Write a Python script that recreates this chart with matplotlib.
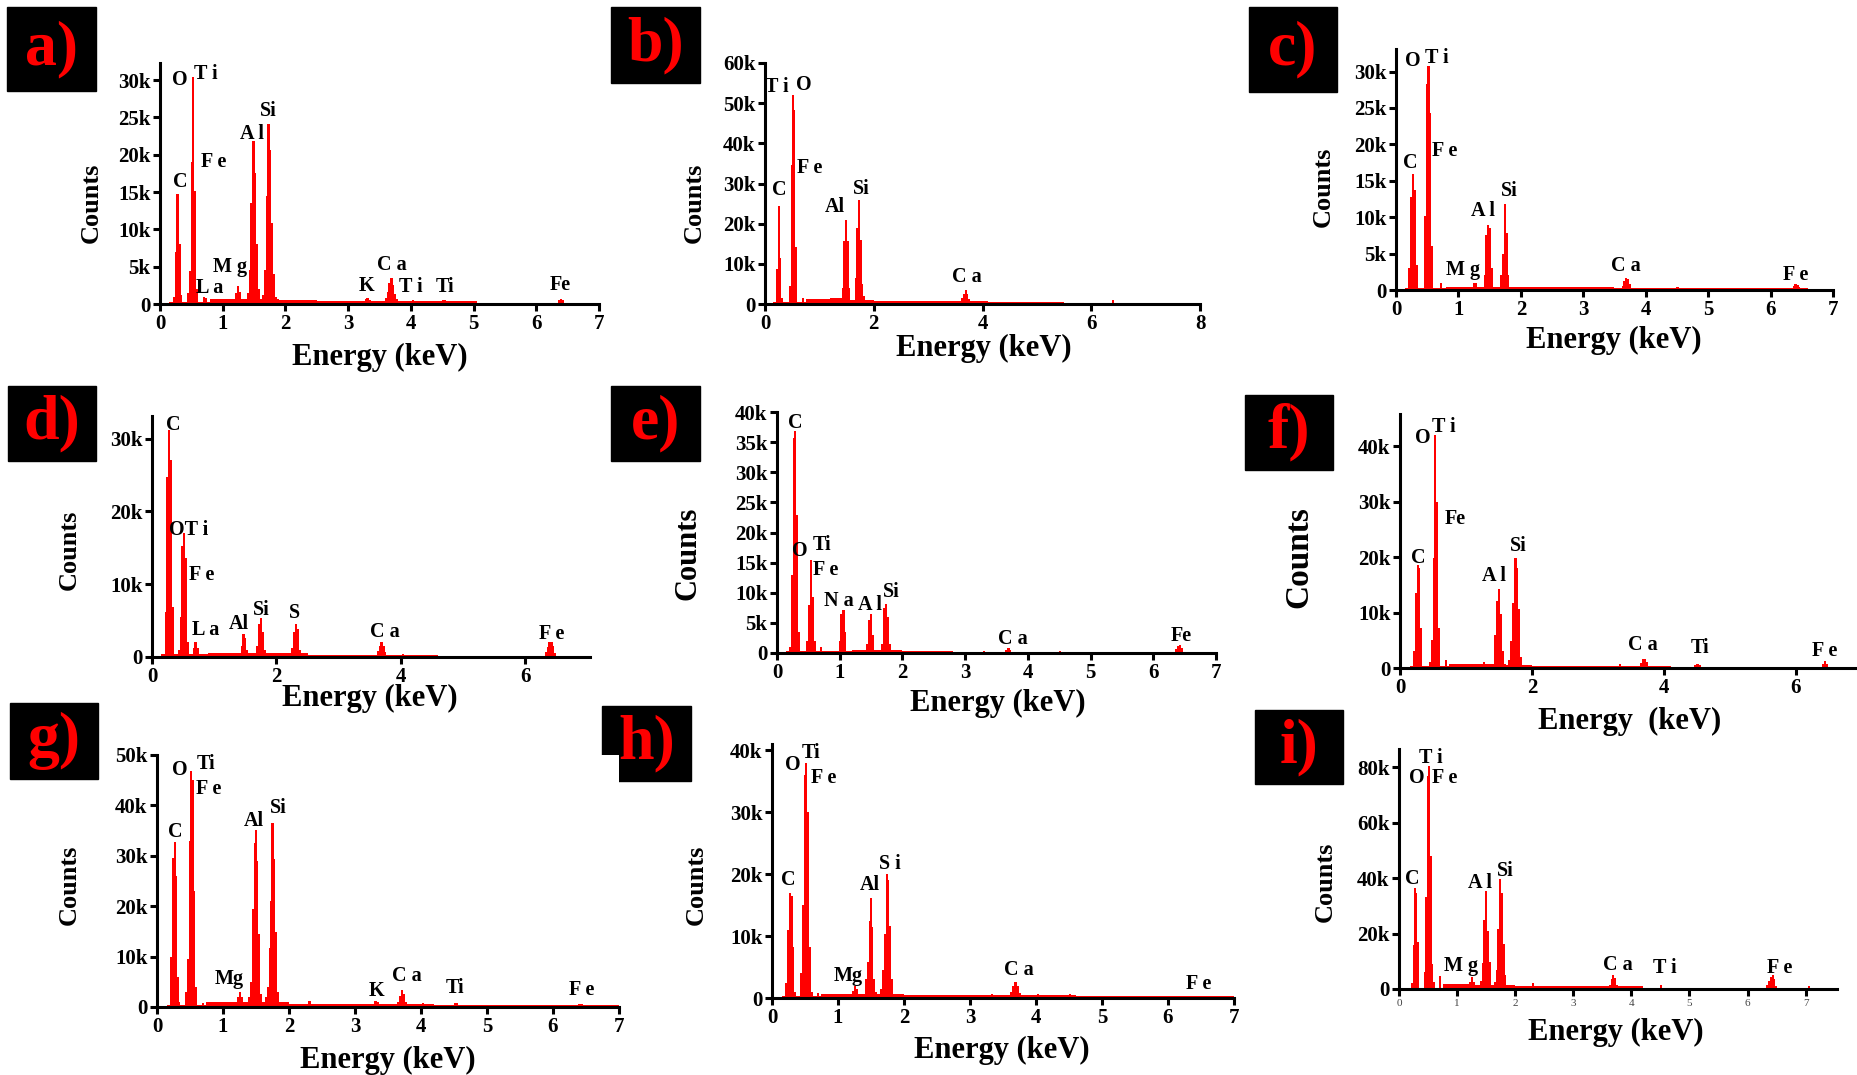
import numpy as np
import matplotlib.pyplot as plt
from matplotlib.patches import Rectangle
from matplotlib.ticker import FuncFormatter

plt.rcParams['font.family'] = ['Liberation Serif', 'DejaVu Serif']
plt.rcParams['font.weight'] = 'bold'

W, H = 1858, 1075
RED = '#ff0000'

# ---- spectra: channel energy (keV) and counts (thousands) ----
a_e = [0.22, 0.25, 0.28, 0.31, 0.34, 0.45, 0.48, 0.51, 0.53, 0.56, 0.59, 0.70, 0.73, 1.22, 1.25, 1.28,
       1.40, 1.43, 1.46, 1.49, 1.52, 1.55, 1.58, 1.64, 1.67, 1.70, 1.73, 1.76, 1.79, 1.82, 1.85,
       3.28, 3.31, 3.34, 3.60, 3.63, 3.66, 3.69, 3.72, 3.75, 3.78, 4.03, 4.51, 4.54, 6.37, 6.40, 6.43]
a_c = [1.0, 7.0, 14.7, 8.0, 1.2, 1.5, 4.4, 19.0, 30.4, 15.1, 2.0, 1.0, 0.8, 1.5, 2.4, 1.6,
       1.5, 4.5, 13.5, 21.8, 17.5, 8.0, 2.0, 1.2, 4.5, 14.5, 24.1, 20.7, 10.9, 4.0, 1.0,
       0.7, 0.8, 0.6, 0.8, 1.6, 2.8, 3.5, 2.5, 1.4, 0.7, 0.5, 0.6, 0.5, 0.5, 0.7, 0.5]
a_base_edges = [0.15, 0.8, 1.9, 2.5, 5.05, 7.0]
a_base_level = [0.3, 0.7, 0.5, 0.35, 0.13]
a_lab = ['O', 'T i', 'F e', 'C', 'Si', 'A l', 'M g', 'L a', 'K', 'C a', 'T i', 'Ti', 'Fe']
a_lx = [0.32, 0.73, 0.86, 0.32, 1.72, 1.47, 1.12, 0.80, 3.30, 3.70, 4.00, 4.55, 6.38]
a_ly = [30.0, 30.8, 19.0, 16.4, 25.8, 22.8, 5.0, 2.1, 2.4, 5.2, 2.3, 2.3, 2.5]

b_e = [0.22, 0.25, 0.28, 0.31, 0.46, 0.49, 0.52, 0.54, 0.57, 0.70, 1.43, 1.46, 1.49, 1.52, 1.55,
       1.67, 1.70, 1.73, 1.76, 1.79, 1.82, 3.63, 3.66, 3.69, 3.72, 3.75, 6.40]
b_c = [8.7, 24.5, 11.5, 1.5, 4.5, 34.7, 52.0, 48.4, 14.2, 1.5, 4.0, 15.6, 21.0, 15.6, 4.0,
       6.5, 18.9, 25.8, 16.0, 5.0, 2.0, 1.5, 2.6, 3.6, 2.5, 1.2, 0.9]
b_base_edges = [0.15, 0.75, 1.2, 1.45, 2.0, 4.1, 5.5, 8.0]
b_base_level = [0.4, 1.2, 1.5, 1.0, 0.8, 0.5, 0.25]
b_lab = ['T i', 'O', 'F e', 'C', 'Al', 'Si', 'C a']
b_lx = [0.22, 0.71, 0.82, 0.26, 1.29, 1.78, 3.72]
b_ly = [54.0, 54.6, 33.9, 28.3, 24.1, 28.6, 6.7]

c_e = [0.21, 0.24, 0.27, 0.30, 0.33, 0.47, 0.50, 0.52, 0.55, 0.58, 0.72, 1.25, 1.28,
       1.42, 1.45, 1.48, 1.51, 1.54, 1.68, 1.71, 1.74, 1.77, 1.80,
       3.63, 3.66, 3.69, 3.72, 3.75, 4.03, 4.51, 6.37, 6.40, 6.43, 6.46]
c_c = [3.0, 12.8, 15.9, 13.8, 3.5, 10.1, 28.3, 30.8, 24.3, 6.0, 1.0, 1.0, 0.9,
       2.0, 7.5, 8.9, 8.5, 3.0, 2.0, 4.9, 11.8, 7.8, 2.0,
       0.6, 1.3, 1.7, 1.5, 0.8, 0.3, 0.35, 0.5, 0.8, 0.7, 0.4]
c_base_edges = [0.15, 0.8, 2.0, 3.5, 5.6, 6.6]
c_base_level = [0.3, 0.45, 0.35, 0.3, 0.25]
c_lab = ['O', 'T i', 'F e', 'C', 'Si', 'A l', 'M g', 'C a', 'F e']
c_lx = [0.27, 0.66, 0.78, 0.23, 1.82, 1.40, 1.08, 3.68, 6.40]
c_ly = [31.5, 31.8, 19.1, 17.5, 13.6, 10.8, 2.7, 3.3, 2.1]

d_e = [0.22, 0.25, 0.27, 0.30, 0.33, 0.43, 0.46, 0.49, 0.52, 0.55, 0.58, 0.67, 0.70, 0.73,
       1.44, 1.47, 1.50, 1.53, 1.69, 1.72, 1.75, 1.78, 1.81, 2.25, 2.28, 2.31, 2.34, 2.37,
       3.63, 3.66, 3.69, 3.72, 3.75, 4.03, 6.33, 6.36, 6.39, 6.42, 6.45, 6.48]
d_c = [6.2, 24.7, 31.2, 27.0, 6.9, 1.0, 5.5, 15.3, 17.0, 13.6, 2.0, 1.2, 2.0, 1.3,
       1.5, 3.2, 2.6, 1.0, 1.5, 4.5, 5.3, 3.5, 1.0, 1.2, 3.5, 4.5, 3.8, 1.0,
       0.8, 1.5, 2.0, 1.5, 0.7, 0.4, 0.7, 1.4, 2.0, 2.0, 1.5, 0.6]
d_base_edges = [0.15, 0.9, 2.5, 4.6, 7.0]
d_base_level = [0.4, 0.5, 0.25, 0.15]
d_lab = ['C', 'OT i', 'F e', 'L a', 'Al', 'Si', 'S', 'C a', 'F e']
d_lx = [0.34, 0.59, 0.80, 0.86, 1.39, 1.75, 2.29, 3.75, 6.42]
d_ly = [31.9, 17.5, 11.3, 3.7, 4.5, 6.5, 6.1, 3.5, 3.2]

e_e = [0.21, 0.24, 0.27, 0.29, 0.32, 0.35, 0.48, 0.51, 0.54, 0.57, 0.60, 0.70,
       1.00, 1.03, 1.06, 1.09, 1.44, 1.47, 1.50, 1.53, 1.68, 1.71, 1.74, 1.77, 1.80,
       3.30, 3.66, 3.69, 3.72, 4.51, 6.37, 6.40, 6.43, 6.46]
e_c = [1.0, 13.0, 35.7, 36.8, 22.9, 3.5, 2.0, 7.9, 15.5, 9.3, 2.0, 1.0,
       2.0, 6.5, 7.2, 3.5, 1.5, 5.5, 6.4, 3.0, 1.5, 7.5, 8.1, 6.0, 1.5,
       0.3, 0.5, 0.8, 0.5, 0.4, 0.6, 1.1, 1.3, 0.8]
e_base_edges = [0.15, 0.75, 1.2, 2.0, 2.8, 7.0]
e_base_level = [0.3, 0.4, 0.5, 0.3, 0.15]
e_lab = ['C', 'O', 'Ti', 'F e', 'N a', 'A l', 'Si', 'C a', 'Fe']
e_lx = [0.29, 0.37, 0.72, 0.77, 0.98, 1.48, 1.82, 3.76, 6.45]
e_ly = [38.1, 16.9, 18.0, 13.8, 8.6, 7.9, 10.2, 2.4, 2.8]

f_e = [0.21, 0.24, 0.27, 0.29, 0.32, 0.45, 0.48, 0.51, 0.53, 0.56, 0.59, 0.70, 1.27,
       1.44, 1.47, 1.50, 1.53, 1.56, 1.66, 1.69, 1.72, 1.75, 1.77, 1.80, 1.83,
       3.33, 3.65, 3.68, 3.71, 3.74, 4.48, 4.51, 4.54, 6.41, 6.44, 6.47]
f_c = [3.0, 13.6, 18.6, 18.0, 7.2, 1.0, 5.0, 19.8, 42.0, 29.9, 7.2, 1.5, 1.0,
       6.0, 12.0, 14.3, 9.7, 3.0, 1.5, 4.8, 11.8, 19.8, 18.0, 10.6, 2.0,
       0.7, 0.9, 1.6, 1.7, 1.0, 0.6, 0.8, 0.6, 0.8, 1.2, 0.8]
f_base_edges = [0.15, 0.75, 1.6, 2.0, 4.1, 6.94]
f_base_level = [0.3, 0.7, 0.5, 0.4, 0.25]
f_lab = ['O', 'T i', 'Fe', 'C', 'Si', 'A l', 'C a', 'Ti', 'F e']
f_lx = [0.34, 0.67, 0.83, 0.28, 1.79, 1.42, 3.68, 4.55, 6.44]
f_ly = [41.5, 43.5, 26.9, 19.8, 22.0, 16.6, 4.1, 3.6, 3.0]

g_e = [0.22, 0.25, 0.27, 0.29, 0.31, 0.33, 0.44, 0.47, 0.50, 0.52, 0.54, 0.56, 0.59, 0.70,
       1.23, 1.26, 1.29, 1.40, 1.43, 1.46, 1.48, 1.50, 1.52, 1.55, 1.58,
       1.65, 1.68, 1.71, 1.73, 1.75, 1.77, 1.80, 1.83, 2.31, 3.31, 3.34,
       3.65, 3.68, 3.71, 3.74, 3.77, 4.03, 4.51, 4.54, 6.40, 6.43]
g_c = [9.9, 29.5, 32.8, 26.0, 6.0, 1.0, 3.0, 9.6, 33.0, 46.8, 45.0, 23.0, 4.0, 0.8,
       2.0, 3.0, 2.0, 2.0, 5.0, 19.5, 32.5, 35.2, 29.0, 14.5, 2.5,
       2.0, 4.0, 11.8, 21.0, 36.6, 29.3, 14.9, 3.0, 1.2, 1.1, 0.9,
       1.0, 2.2, 3.3, 2.5, 1.0, 0.8, 0.8, 0.8, 0.6, 0.6]
g_base_edges = [0.15, 0.75, 1.4, 2.0, 4.2, 7.0]
g_base_level = [0.4, 1.0, 0.9, 0.6, 0.4]
g_lab = ['O', 'Ti', 'F e', 'C', 'Al', 'Si', 'Mg', 'K', 'C a', 'Ti', 'F e']
g_lx = [0.34, 0.74, 0.78, 0.28, 1.46, 1.84, 1.10, 3.32, 3.79, 4.51, 6.44]
g_ly = [47.0, 48.3, 43.2, 34.8, 36.9, 39.4, 5.6, 3.1, 6.1, 3.8, 3.4]

h_e = [0.22, 0.25, 0.27, 0.30, 0.32, 0.35, 0.44, 0.47, 0.50, 0.52, 0.55, 0.57, 0.60, 0.70,
       1.23, 1.26, 1.29, 1.42, 1.45, 1.48, 1.50, 1.52, 1.55, 1.58,
       1.66, 1.69, 1.72, 1.74, 1.76, 1.78, 1.81, 3.33, 3.63, 3.66, 3.69, 3.72, 3.75,
       4.03, 4.51, 6.40, 6.43]
h_c = [2.5, 10.9, 17.0, 16.5, 8.3, 1.0, 4.0, 15.0, 36.0, 38.0, 30.1, 8.3, 1.0, 0.8,
       1.2, 1.9, 1.5, 3.0, 5.8, 12.5, 16.2, 11.5, 3.0, 1.0,
       1.5, 4.5, 10.4, 20.0, 19.0, 11.7, 3.0, 0.7, 1.0, 2.0, 2.6, 2.0, 0.8,
       0.7, 0.7, 0.4, 0.4]
h_base_edges = [0.15, 0.75, 1.2, 2.0, 4.6, 7.0]
h_base_level = [0.3, 0.6, 0.7, 0.5, 0.25]
h_lab = ['O', 'Ti', 'F e', 'C', 'S i', 'Al', 'Mg', 'C a', 'F e']
h_lx = [0.31, 0.59, 0.78, 0.25, 1.78, 1.49, 1.16, 3.74, 6.47]
h_ly = [37.6, 39.6, 35.5, 19.0, 21.7, 18.3, 3.5, 4.6, 2.3]

i_e = [0.22, 0.25, 0.27, 0.30, 0.32, 0.44, 0.47, 0.50, 0.52, 0.55, 0.57, 0.60, 0.70,
       1.23, 1.26, 1.29, 1.41, 1.44, 1.47, 1.50, 1.53, 1.56,
       1.65, 1.68, 1.71, 1.74, 1.77, 1.80, 1.83, 2.31, 3.63, 3.66, 3.69, 3.72, 3.75,
       4.51, 6.34, 6.37, 6.40, 6.43, 6.46, 6.49, 7.06]
i_c = [2.0, 16.0, 36.3, 34.7, 16.8, 6.0, 33.3, 77.0, 80.3, 48.1, 9.2, 2.5, 4.6,
       2.5, 4.3, 2.5, 3.0, 9.5, 24.8, 35.3, 21.0, 9.8,
       2.5, 7.0, 21.8, 39.7, 34.7, 16.4, 5.0, 2.0, 1.5, 3.5, 4.9, 4.0, 1.5,
       1.4, 1.5, 3.0, 4.5, 4.9, 3.5, 1.2, 1.0]
i_base_edges = [0.15, 0.75, 1.2, 2.0, 4.2, 7.3, 7.5]
i_base_level = [0.5, 1.7, 1.6, 1.0, 0.5, 0.3]
i_lab = ['T i', 'O', 'F e', 'C', 'Si', 'A l', 'M g', 'C a', 'T i', 'F e']
i_lx = [0.55, 0.30, 0.79, 0.23, 1.83, 1.39, 1.06, 3.77, 4.57, 6.55]
i_ly = [83.4, 76.1, 76.1, 39.7, 42.7, 38.4, 8.3, 8.8, 7.4, 7.4]

# ---- layout in pixels: axes (left, right, y of zero, y of top) ----
layout = {
    'a': dict(ax=(160, 599, 304, 63), xmax=7, ymax=32.3, xs=1, ys=5, box=(7, 7, 96, 91), cnt=(91, 203, 19), en=(380, 357)),
    'b': dict(ax=(765, 1200, 304, 63), xmax=8, ymax=60, xs=2, ys=10, box=(611, 7, 700, 83), cnt=(694, 203, 19), en=(984, 348)),
    'c': dict(ax=(1396, 1833, 290, 49), xmax=7, ymax=33.1, xs=1, ys=5, box=(1249, 7, 1337, 92), cnt=(1323, 187, 19), en=(1614, 340)),
    'd': dict(ax=(152, 590, 657, 416), xmax=7.04, ymax=33.1, xs=2, ys=10, box=(8, 386, 96, 461), cnt=(69, 550, 19), en=(370, 698)),
    'e': dict(ax=(777, 1216, 653, 412), xmax=7, ymax=40, xs=1, ys=5, box=(611, 386, 700, 461), cnt=(688, 553, 22), en=(998, 703)),
    'f': dict(ax=(1400, 1858, 668, 414), xmax=6.94, ymax=45.8, xs=2, ys=10, box=(1245, 395, 1333, 470), cnt=(1299, 557, 24), en=(1630, 721)),
    'g': dict(ax=(157, 619, 1007, 755), xmax=7, ymax=50, xs=1, ys=10, box=(10, 703, 98, 779), cnt=(69, 885, 19), en=(388, 1060)),
    'h': dict(ax=(772, 1234, 998, 744), xmax=7, ymax=41, xs=1, ys=10, box=(602, 706, 691, 781), cnt=(696, 885, 19), en=(1002, 1050)),
    'i': dict(ax=(1399, 1837, 989, 749), xmax=7.54, ymax=86.6, xs=1, ys=20, box=(1255, 710, 1343, 784), cnt=(1325, 882, 19), en=(1616, 1032)),
}

fig = plt.figure(figsize=(W / 100, H / 100), dpi=100)


def fx(x):
    return x / W


def fy(y):
    return 1 - y / H


kfmt = FuncFormatter(lambda v, p: '0' if v == 0 else f'{v:g}k')


def panel(key, e, c, edges, level, lab, lx, ly):
    g = layout[key]
    l, r, y0, top = g['ax']
    ax = fig.add_axes([fx(l), fy(y0), fx(r - l), (y0 - top) / H])
    ax.stairs(level, edges, fill=True, color=RED, lw=0)
    ax.bar(e, c, width=0.035, color=RED, lw=0)
    ax.set_xlim(0, g['xmax'])
    ax.set_ylim(0, g['ymax'])
    for s in ['top', 'right']:
        ax.spines[s].set_visible(False)
    for s in ['left', 'bottom']:
        ax.spines[s].set_linewidth(2.2)
    xt = np.arange(0, g['xmax'] + 1e-6, g['xs'])
    yt = np.arange(0, g['ymax'] + 1e-6, g['ys'])
    if key == 'i':
        ax.set_xticks(xt, [f'{v:g}' for v in xt], fontsize=8, fontweight='normal', color='#444444')
    else:
        ax.set_xticks(xt, [f'{v:g}' for v in xt], fontsize=15, fontweight='bold')
    ax.set_yticks(yt)
    ax.yaxis.set_major_formatter(kfmt)
    ax.tick_params(axis='y', labelsize=15, direction='out', length=5, width=2.2, pad=2)
    ax.tick_params(axis='x', direction='out', length=5, width=2.2, pad=2)
    for t, x, y in zip(lab, lx, ly):
        ax.text(x, y, t, ha='center', va='center', fontsize=14.5, fontweight='bold')
    # axis titles
    cx, cy, cs = g['cnt']
    fig.text(fx(cx), fy(cy), 'Counts', rotation=90, ha='center', va='center', fontsize=cs, fontweight='bold')
    ex, ey = g['en']
    title = 'Energy  (keV)' if key == 'f' else 'Energy (keV)'
    fig.text(fx(ex), fy(ey), title, ha='center', va='center', fontsize=22, fontweight='bold')
    # panel tag
    bx0, by0, bx1, by1 = g['box']
    fig.add_artist(Rectangle((fx(bx0), fy(by1)), fx(bx1 - bx0), (by1 - by0) / H,
                             transform=fig.transFigure, color='black', zorder=0))
    fig.text(fx((bx0 + bx1) / 2), fy((by0 + by1) / 2), key + ')', ha='center', va='center',
             fontsize=46, fontweight='bold', color=RED)
    return ax


panel('a', a_e, a_c, a_base_edges, a_base_level, a_lab, a_lx, a_ly)
panel('b', b_e, b_c, b_base_edges, b_base_level, b_lab, b_lx, b_ly)
panel('c', c_e, c_c, c_base_edges, c_base_level, c_lab, c_lx, c_ly)
panel('d', d_e, d_c, d_base_edges, d_base_level, d_lab, d_lx, d_ly)
panel('e', e_e, e_c, e_base_edges, e_base_level, e_lab, e_lx, e_ly)
panel('f', f_e, f_c, f_base_edges, f_base_level, f_lab, f_lx, f_ly)
panel('g', g_e, g_c, g_base_edges, g_base_level, g_lab, g_lx, g_ly)
panel('h', h_e, h_c, h_base_edges, h_base_level, h_lab, h_lx, h_ly)
panel('i', i_e, i_c, i_base_edges, i_base_level, i_lab, i_lx, i_ly)

fig.savefig('out.png', dpi=100)
